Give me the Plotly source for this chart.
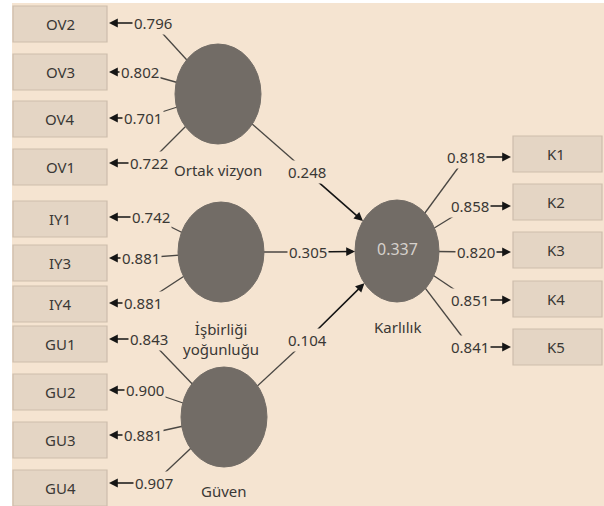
import plotly.graph_objects as go

# ------------------------------------------------------------
# model values
# ------------------------------------------------------------
left_items = ["OV2", "OV3", "OV4", "OV1", "IY1", "IY3", "IY4", "GU1", "GU2", "GU3", "GU4"]
left_loadings = [0.796, 0.802, 0.701, 0.722, 0.742, 0.881, 0.881, 0.843, 0.900, 0.881, 0.907]
item_construct = [0, 0, 0, 0, 1, 1, 1, 2, 2, 2, 2]

constructs = ["Ortak vizyon", "İşbirliği<br>yoğunluğu", "Güven"]
path_coefs = [0.248, 0.305, 0.104]

outcome = "Karlılık"
r_squared = 0.337
right_items = ["K1", "K2", "K3", "K4", "K5"]
right_loadings = [0.818, 0.858, 0.820, 0.851, 0.841]

# ------------------------------------------------------------
# layout (pixel positions of the diagram)
# ------------------------------------------------------------
BG = "#f5e4d1"
BOX_FILL = "#e4d5c4"
BOX_LINE = "#cdbdac"
CIRCLE = "#726c66"
LINE = "#4a4743"
ARROW = "#151515"
TXT = "#3a3835"
FONT = "Noto Sans"

left_box_y = [24, 72, 119, 167, 219, 263, 304, 344, 392, 440, 488]
left_lab_x = [153, 140, 143, 149, 151, 141, 143, 149, 145, 143, 154]
left_lab_y = [23, 72, 118, 163, 217, 258, 303, 339, 390, 435, 483]

circ_xy = [(218, 94), (221, 252), (224, 417)]
circ_lab_y = [170, 339, 491]
RX, RY = 43, 50
out_xy = (397, 251)
ORX, ORY = 42, 51

path_lab = [(307, 172), (308, 252), (307, 340)]

right_box_y = [154, 202, 250, 299, 347]
right_lab_x = [466, 470, 476, 470, 470]
right_lab_y = [157, 206, 252, 300, 347]


def edge_point(cx, cy, rx, ry, px, py):
    dx, dy = cx - px, cy - py
    t = 1.0 / ((dx / rx) ** 2 + (dy / ry) ** 2) ** 0.5
    return cx - dx * t, cy - dy * t


fig = go.Figure()
fig.add_trace(go.Scatter(x=[0, 604], y=[0, 506], mode="markers",
                         marker=dict(opacity=0), hoverinfo="skip", showlegend=False))

shapes = []
annots = []
labels = []

# canvas
shapes.append(dict(type="rect", x0=12, y0=3, x1=604, y1=506, fillcolor=BG,
                   line=dict(width=0), layer="below"))

# left indicators
for i, name in enumerate(left_items):
    y = left_box_y[i]
    shapes.append(dict(type="rect", x0=13, x1=107, y0=y - 18, y1=y + 18,
                       fillcolor=BOX_FILL, line=dict(color=BOX_LINE, width=1.2)))
    labels.append(dict(x=60, y=y, text=name, showarrow=False,
                       font=dict(size=15, color=TXT, family=FONT)))
    cx, cy = circ_xy[item_construct[i]]
    lx, ly = left_lab_x[i], left_lab_y[i]
    shapes.append(dict(type="line", x0=cx, y0=cy, x1=lx, y1=ly,
                       line=dict(color=LINE, width=1.3)))
    annots.append(dict(x=109, y=ly, ax=lx, ay=ly, axref="x", ayref="y",
                       text="", showarrow=True, arrowhead=2, arrowsize=1.1,
                       arrowwidth=1.6, arrowcolor=ARROW))
    labels.append(dict(x=lx, y=ly, text=f"{left_loadings[i]:.3f}", showarrow=False,
                       bgcolor=BG, borderpad=1,
                       font=dict(size=15, color=TXT, family=FONT)))

# structural paths
for j, coef in enumerate(path_coefs):
    cx, cy = circ_xy[j]
    lx, ly = path_lab[j]
    shapes.append(dict(type="line", x0=cx, y0=cy, x1=lx, y1=ly,
                       line=dict(color=LINE, width=1.3)))
    tx, ty = edge_point(out_xy[0], out_xy[1], ORX, ORY, lx, ly)
    annots.append(dict(x=tx, y=ty, ax=lx, ay=ly, axref="x", ayref="y",
                       text="", showarrow=True, arrowhead=2, arrowsize=1.1,
                       arrowwidth=1.6, arrowcolor=ARROW))
    labels.append(dict(x=lx, y=ly, text=f"{coef:.3f}", showarrow=False,
                       bgcolor=BG, borderpad=1,
                       font=dict(size=15, color=TXT, family=FONT)))

# right indicators
for k, name in enumerate(right_items):
    y = right_box_y[k]
    shapes.append(dict(type="rect", x0=513, x1=602, y0=y - 18, y1=y + 18,
                       fillcolor=BOX_FILL, line=dict(color=BOX_LINE, width=1.2)))
    labels.append(dict(x=556, y=y, text=name, showarrow=False,
                       font=dict(size=15, color=TXT, family=FONT)))
    lx, ly = right_lab_x[k], right_lab_y[k]
    shapes.append(dict(type="line", x0=out_xy[0], y0=out_xy[1], x1=lx, y1=ly,
                       line=dict(color=LINE, width=1.3)))
    annots.append(dict(x=511, y=ly, ax=lx, ay=ly, axref="x", ayref="y",
                       text="", showarrow=True, arrowhead=2, arrowsize=1.1,
                       arrowwidth=1.6, arrowcolor=ARROW))
    labels.append(dict(x=lx, y=ly, text=f"{right_loadings[k]:.3f}", showarrow=False,
                       bgcolor=BG, borderpad=1,
                       font=dict(size=15, color=TXT, family=FONT)))

# latent variables (drawn over the lines)
for j, name in enumerate(constructs):
    cx, cy = circ_xy[j]
    shapes.append(dict(type="circle", x0=cx - RX, x1=cx + RX, y0=cy - RY, y1=cy + RY,
                       fillcolor=CIRCLE, line=dict(color=CIRCLE, width=1)))
    labels.append(dict(x=cx, y=circ_lab_y[j], text=name, showarrow=False,
                       font=dict(size=15, color=TXT, family=FONT)))

shapes.append(dict(type="circle", x0=out_xy[0] - ORX, x1=out_xy[0] + ORX,
                   y0=out_xy[1] - ORY, y1=out_xy[1] + ORY,
                   fillcolor=CIRCLE, line=dict(color=CIRCLE, width=1)))
labels.append(dict(x=out_xy[0], y=out_xy[1] - 2, text=f"{r_squared:.3f}", showarrow=False,
                   font=dict(size=16, color="#d6d1cc", family=FONT)))
labels.append(dict(x=out_xy[0], y=327, text=outcome, showarrow=False,
                   font=dict(size=15, color=TXT, family=FONT)))

fig.update_layout(
    width=604, height=506, autosize=False,
    margin=dict(l=0, r=0, t=0, b=0),
    paper_bgcolor="white", plot_bgcolor="white",
    xaxis=dict(range=[0, 604], visible=False, fixedrange=True),
    yaxis=dict(range=[506, 0], visible=False, fixedrange=True),
    shapes=shapes,
    annotations=annots + labels,
    showlegend=False,
)

fig.write_html("out.html", config={"displayModeBar": False},
               post_script="document.body.style.margin='0';document.body.style.overflow='hidden';")
